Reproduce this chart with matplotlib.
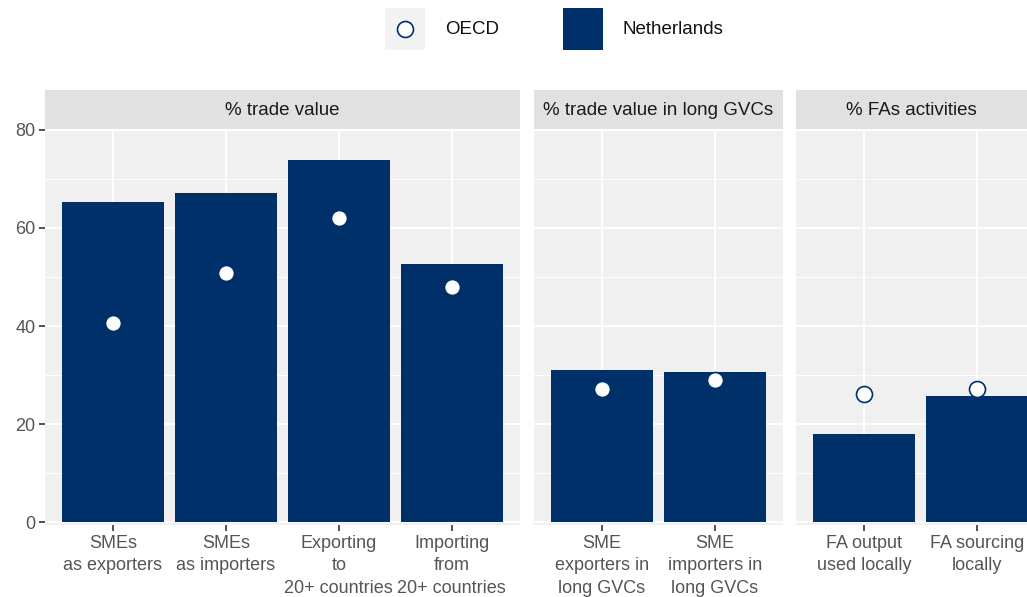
import matplotlib.pyplot as plt
from matplotlib.patches import Rectangle
from matplotlib.lines import Line2D

plt.rcParams['font.family'] = ['Liberation Sans Narrow', 'Liberation Sans', 'DejaVu Sans']

# data
facets = ["% trade value", "% trade value in long GVCs", "% FAs activities"]
labels = [
    ["SMEs\nas exporters", "SMEs\nas importers", "Exporting\nto\n20+ countries", "Importing\nfrom\n20+ countries"],
    ["SME\nexporters in\nlong GVCs", "SME\nimporters in\nlong GVCs"],
    ["FA output\nused locally", "FA sourcing\nlocally"],
]
netherlands = [[65.3, 67.1, 73.9, 52.7], [31.0, 30.6], [18.0, 25.7]]
oecd = [[40.6, 50.8, 62.0, 48.0], [27.1, 29.0], [26.1, 27.1]]

navy = "#00306A"
panel_bg = "#F0F0F0"
strip_bg = "#E1E1E1"
tick_col = "#555555"

W, H = 1027, 597
fig = plt.figure(figsize=(W / 100, H / 100), dpi=100)

px_per_cat = 113
lefts = [45, 534, 796]
top, bottom, strip_top = 129, 525, 90

for k in range(3):
    n = len(netherlands[k])
    width = px_per_cat * (n + 0.2)
    ax = fig.add_axes([lefts[k] / W, 1 - bottom / H, width / W, (bottom - top) / H])
    ax.set_facecolor(panel_bg)
    xs = list(range(n))
    ax.bar(xs, netherlands[k], width=0.9, color=navy, zorder=3)
    ax.plot(xs, oecd[k], 'o', ms=11.5, mfc='white', mec=navy, mew=1.2, zorder=4)
    ax.set_xlim(-0.6, n - 0.4)
    ax.set_ylim(-0.6, 80.2)
    ax.set_yticks([0, 20, 40, 60, 80])
    ax.set_yticks([10, 30, 50, 70], minor=True)
    ax.set_xticks(xs)
    ax.set_xticklabels(labels[k], fontsize=13, color=tick_col, linespacing=1.42)
    ax.grid(True, which='major', color='white', lw=1.4, zorder=1)
    ax.grid(True, which='minor', axis='y', color='white', lw=0.7, zorder=1)
    ax.tick_params(axis='x', length=4, width=1.2, color='#333333', pad=3)
    ax.tick_params(axis='y', which='minor', length=0)
    if k == 0:
        ax.tick_params(axis='y', length=4, width=1.2, color='#333333', labelsize=13,
                       labelcolor=tick_col, pad=3)
    else:
        ax.tick_params(axis='y', length=0, labelleft=False)
    for s in ax.spines.values():
        s.set_visible(False)

    # strip
    sax = fig.add_axes([lefts[k] / W, 1 - top / H, width / W, (top - strip_top) / H])
    sax.set_facecolor(strip_bg)
    sax.set_xticks([])
    sax.set_yticks([])
    for s in sax.spines.values():
        s.set_visible(False)
    visible_w = min(width, W - lefts[k])
    sax.text(0.5 * visible_w / width, 0.47, facets[k], ha='center', va='center',
             fontsize=13.5, color='#1A1A1A', transform=sax.transAxes)

# legend
fig.add_artist(Rectangle((385 / W, 1 - 50 / H), 40 / W, 42 / H, transform=fig.transFigure,
                         facecolor='#F3F3F3', edgecolor='none'))
fig.add_artist(Line2D([405 / W], [1 - 29 / H], transform=fig.transFigure, marker='o',
                      ms=11.5, mfc='white', mec=navy, mew=1.2, ls='none'))
fig.text(445 / W, 1 - 30 / H, "OECD", ha='left', va='center', fontsize=13.5, color='#111111')
fig.add_artist(Rectangle((563 / W, 1 - 50 / H), 40 / W, 42 / H, transform=fig.transFigure,
                         facecolor=navy, edgecolor='none'))
fig.text(622 / W, 1 - 30 / H, "Netherlands", ha='left', va='center', fontsize=13.5, color='#111111')

fig.savefig("out.png", dpi=100)
